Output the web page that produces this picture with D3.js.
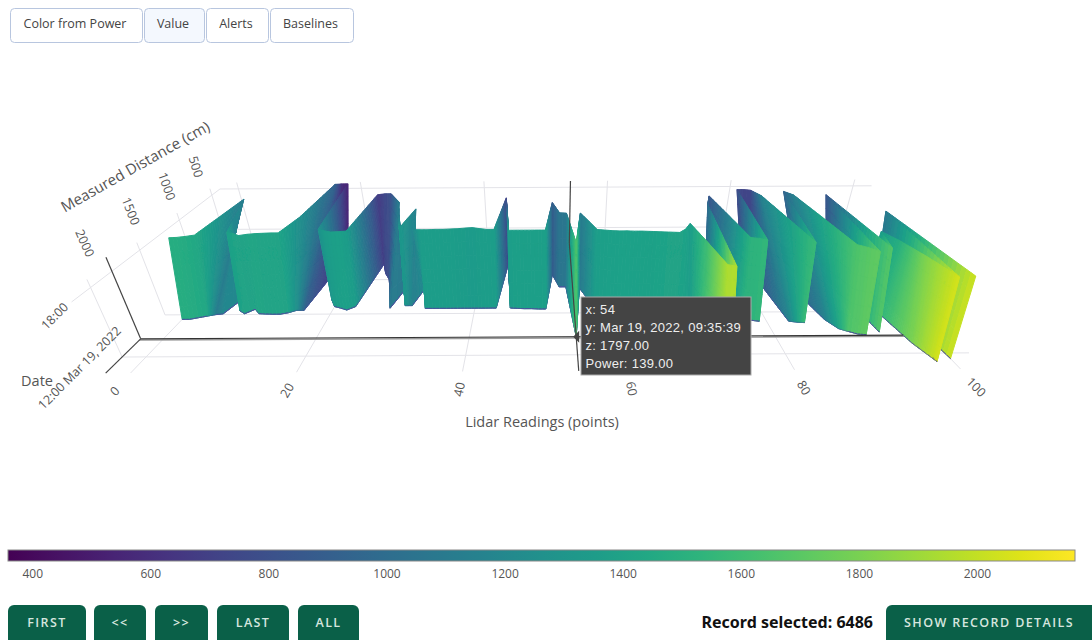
<!DOCTYPE html>
<html>
<head>
<meta charset="utf-8">
<script src="https://cdn.jsdelivr.net/npm/d3@7"></script>
<style>
  html, body { margin: 0; padding: 0; background: #fff; overflow: hidden; }
  text { font-family: "Open Sans", sans-serif; }
</style>
</head>
<body>
<svg id="chart" width="1092" height="640"></svg>
<script>
// Measured distance per lidar point (index = point 0..100), top and bottom record of the surface
const zTop = [1400,1395,1380,1360,700,900,1120,1320,1340,1370,1350,1340,1335,1330,1330,1060,380,370,370,1270,1300,
  1320,1315,1305,620,600,600,690,780,1020,1258,914,1289,1290,1290,1285,1285,1280,1275,1265,1258,
  1275,1290,1290,700,1305,1305,1305,1305,1305,1305,800,1000,1008,1510,1008,1150,1300,1310,1320,1325,
  1325,1330,1330,1335,1340,1345,1350,1355,1300,1205,1500,1830,1850,855,680,1050,1440,1455,1480,545,
  545,560,680,1100,1520,1050,590,665,1100,1560,1600,1660,665,1610,1355,1500,1720,2000,1000,1990];
const zBottom = [1560,1560,1540,1520,1500,1490,1280,1450,1490,1430,1490,1495,1498,1498,1480,1446,1446,800,700,1300,1398,
  1420,1446,1400,735,900,1000,1200,1424,1175,1390,1390,1145,1430,1430,1430,1430,1430,1430,1430,1430,
  1430,1430,1430,735,1430,1435,1440,1440,1445,1446,930,1127,1127,1797,1145,1300,1430,1435,1440,1440,
  1445,1445,1450,1450,1455,1455,1460,1460,1500,1500,1700,2050,2050,1100,1000,1200,1590,1607,1620,1000,
  900,900,1620,1633,1640,1400,1280,1600,1716,1751,1782,1790,1000,1760,1350,1480,1890,2090,1150,2060];
const rowHours = [9.595, 18.7];

const xTicks = [0, 20, 40, 60, 80, 100];
const zTicks = [500, 1000, 1500, 2000];
const dateTicks = [{hour: 12, label: '12:00 Mar 19, 2022'}, {hour: 18, label: '18:00'}];
const colorTicks = [400, 600, 800, 1000, 1200, 1400, 1600, 1800, 2000];

const toggleLabels = ['Color from Power', 'Value', 'Alerts', 'Baselines'];
const navLabels = ['FIRST', '<<', '>>', 'LAST', 'ALL'];
const tipLines = ['x: 54', 'y: Mar 19, 2022, 09:35:39', 'z: 1797.00', 'Power: 139.00'];
const hover = {x: 54, hour: 9.595, z: 1797};

// Extent of the scene box
const xRange = [-3, 103], hourRange = [9.595, 18.9], zRange = [2166, 360];

const svg = d3.select('#chart');

// The 3D scene is rasterised in the original, keep it a little soft
svg.append('defs').append('filter')
    .attr('id', 'soft')
    .append('feGaussianBlur')
    .attr('stdDeviation', 0.45);

// Scales from data to unit box coordinates
const uScale = d3.scaleLinear().domain([0, 100]).range([0, 1]);
const vScale = d3.scaleLinear().domain([12, 18]).range([0, 1]);
const wScale = d3.scaleLinear().domain([2000, 500]).range([0, 3]);
const color = d3.scaleSequential(d3.interpolateViridis).domain([359, 2166]);

// Perspective camera written as vanishing points of the date and distance directions
function project(x, hour, z) {
    const u = uScale(x), v = vScale(hour) * -0.05, w = wScale(z) * 0.1146;
    const den = 1 + v + w;
    return [
        (138 + 815 * u + v * 550 + w * 547) / den,
        (338 - 4 * u + v * 1300 - w * 60) / den
    ];
}

function line3d(parent, a, b, stroke, width) {
    const p = project(...a), q = project(...b);
    parent.append('line')
        .attr('x1', p[0]).attr('y1', p[1])
        .attr('x2', q[0]).attr('y2', q[1])
        .attr('stroke', stroke)
        .attr('stroke-width', width);
}

// Grid lines on floor, back wall and left wall
function drawGrid() {
    const g = svg.append('g');
    const gridColor = '#e3e3e8';
    const floor = hourRange[0], top = hourRange[1];
    xTicks.forEach(x => {
        line3d(g, [x, floor, zRange[0]], [x, floor, zRange[1]], gridColor, 1);
        line3d(g, [x, floor, zRange[1]], [x, top, zRange[1]], gridColor, 1);
    });
    zTicks.forEach(z => {
        line3d(g, [xRange[0], floor, z], [xRange[1], floor, z], gridColor, 1);
        line3d(g, [xRange[0], floor, z], [xRange[0], top, z], gridColor, 1);
    });
    dateTicks.forEach(d => {
        line3d(g, [xRange[0], d.hour, zRange[1]], [xRange[1], d.hour, zRange[1]], gridColor, 1);
    });
    line3d(g, [xRange[0], 18, zRange[0]], [xRange[0], 18, zRange[1]], gridColor, 1);
    line3d(g, [xRange[0], floor, zRange[1]], [xRange[1], floor, zRange[1]], gridColor, 1);
}

// Spikes from the hovered point to the walls
function drawSpikes() {
    const g = svg.append('g');
    const floor = hourRange[0], top = hourRange[1];
    line3d(g, [xRange[0], hover.hour, hover.z + 14], [xRange[1], hover.hour, hover.z + 14], '#999', 1.4);
    line3d(g, [xRange[0], hover.hour, hover.z], [xRange[1], hover.hour, hover.z], '#333', 1.2);
    line3d(g, [hover.x, floor, zRange[0]], [hover.x, floor, zRange[1]], '#444', 1.2);
    line3d(g, [hover.x, floor, zRange[1]], [hover.x, top, zRange[1]], '#444', 1.2);
    line3d(g, [xRange[0], floor, hover.z], [xRange[0], top + 0.7, hover.z], '#444', 1.2);
    line3d(g, [xRange[0], floor, zRange[0]], [xRange[0], floor, hover.z], '#444', 1.2);
}

// Surface: small cells sorted far to near, shaded across the readings
function surfaceCells() {
    const cells = [];
    const stepsY = 6;
    const zAt = (i, t) => zTop[i] * t + zBottom[i] * (1 - t);
    const hAt = t => rowHours[0] + (rowHours[1] - rowHours[0]) * t;
    const shade = i => (zTop[i] + zBottom[i]) / 2;
    for (let i = 0; i < zTop.length - 1; i++) {
        const stepsX = Math.max(2, Math.min(24, Math.ceil(Math.abs(shade(i + 1) - shade(i)) / 12)));
        for (let a = 0; a < stepsX; a++) {
            const sMid = (a + 0.5) / stepsX;
            const fill = color(shade(i) * (1 - sMid) + shade(i + 1) * sMid);
            for (let b = 0; b < stepsY; b++) {
                const corners = [[a, b], [a + 1, b], [a + 1, b + 1], [a, b + 1]].map(([p, q]) => {
                    const s = p / stepsX, t = q / stepsY;
                    const z = zAt(i, t) * (1 - s) + zAt(i + 1, t) * s;
                    return {x: i + s, hour: hAt(t), z};
                });
                const mean = d3.mean(corners, c => c.z);
                cells.push({mean, fill, stroke: fill, width: 1, points: corners.map(c => project(c.x, c.hour, c.z))});
                // thin darker rim along the first record
                if (b === 0) {
                    cells.push({mean: mean + 0.1, fill: 'none', stroke: '#4a4f9c', width: 0.8,
                        points: corners.slice(0, 2).map(c => project(c.x, c.hour, c.z))});
                }
            }
        }
    }
    return cells.sort((p, q) => p.mean - q.mean);
}

function drawCells(cells) {
    const g = svg.append('g').attr('filter', 'url(#soft)');
    g.selectAll('polygon')
        .data(cells)
        .enter().append('polygon')
        .attr('points', d => d.points.map(p => p.join(',')).join(' '))
        .attr('fill', d => d.fill)
        .attr('stroke', d => d.stroke)
        .attr('stroke-width', d => d.width)
        .attr('stroke-linejoin', 'round');
}

// Tick labels follow the direction of their grid line
function lineAngle(p, q) {
    let angle = Math.atan2(q[1] - p[1], q[0] - p[0]) * 180 / Math.PI;
    if (angle > 90) angle -= 180;
    if (angle < -90) angle += 180;
    return angle;
}

function tickLabel(pos, angle, label, size) {
    svg.append('text')
        .attr('transform', `translate(${pos[0]},${pos[1]}) rotate(${angle})`)
        .attr('text-anchor', 'middle')
        .attr('dominant-baseline', 'central')
        .attr('font-size', size)
        .attr('fill', '#555')
        .text(label);
}

function drawAxisLabels() {
    const floor = hourRange[0], top = hourRange[1];
    xTicks.forEach(x => {
        const p = project(x, floor, zRange[0]), q = project(x, floor, zRange[1]);
        tickLabel([p[0] + (p[0] - 547) * 0.038, p[1] + 18], lineAngle(p, q), x, 12.5);
    });
    zTicks.forEach(z => {
        const p = project(xRange[0], top, z), q = project(xRange[0], floor, z);
        tickLabel([p[0] - 10 + (z - 1000) * 0.008, p[1] - 22 - (z - 500) * 0.0095], lineAngle(p, q), z, 12.5);
    });
    dateTicks.forEach(d => {
        const p = project(xRange[0], d.hour, zRange[0]);
        tickLabel([p[0] - 17, p[1] + 14], -45, d.label, 12.5);
    });
    tickLabel([542, 421], 0, 'Lidar Readings (points)', 14.5);
    tickLabel([135, 166], -29.5, 'Measured Distance (cm)', 15);
    tickLabel([37, 380], 0, 'Date', 14.5);
}

function drawTooltip() {
    const anchor = project(hover.x, hover.hour, hover.z);
    const g = svg.append('g');
    g.append('path')
        .attr('d', `M${anchor[0] - 3},${anchor[1]} l6,-6 l0,12 z`)
        .attr('fill', '#444');
    g.append('rect')
        .attr('x', 581).attr('y', 297).attr('width', 170).attr('height', 78)
        .attr('fill', '#444').attr('stroke', '#aaa').attr('stroke-width', 1);
    g.selectAll('text')
        .data(tipLines)
        .enter().append('text')
        .attr('x', 585.5)
        .attr('y', (d, i) => 314 + i * 18)
        .attr('fill', '#eee')
        .attr('font-size', 13)
        .attr('letter-spacing', 0.3)
        .style('font-family', '"Liberation Sans", Arial, sans-serif')
        .text(d => d);
}

function drawColorbar() {
    const barScale = d3.scaleLinear().domain([359, 2166]).range([8, 1075]);
    const defs = svg.append('defs');
    const grad = defs.append('linearGradient').attr('id', 'viridis');
    d3.range(0, 1.01, 0.05).forEach(t => {
        grad.append('stop')
            .attr('offset', t)
            .attr('stop-color', d3.interpolateViridis(t));
    });
    svg.append('rect')
        .attr('x', 8).attr('y', 550).attr('width', 1067).attr('height', 11)
        .attr('fill', 'url(#viridis)')
        .attr('stroke', '#888').attr('stroke-width', 1);
    const axis = d3.axisBottom(barScale).tickValues(colorTicks).tickFormat(d3.format('d')).tickSize(0).tickPadding(8);
    const g = svg.append('g').attr('transform', 'translate(0,561)').call(axis);
    g.select('.domain').remove();
    g.selectAll('text').attr('font-size', 12).attr('fill', '#555').style('font-family', '"Open Sans", sans-serif');
}

function drawControls() {
    const toggleX = [10, 144, 206, 270], toggleW = [133, 61, 63, 84];
    toggleLabels.forEach((label, i) => {
        svg.append('rect')
            .attr('x', toggleX[i] + 0.5).attr('y', 8.5)
            .attr('width', toggleW[i] - 1).attr('height', 34)
            .attr('rx', 4)
            .attr('fill', label === 'Value' ? '#f4f8fe' : '#fff')
            .attr('stroke', '#b8c6df');
        svg.append('text')
            .attr('x', toggleX[i] + toggleW[i] / 2 - 1.5).attr('y', 28)
            .attr('text-anchor', 'middle')
            .attr('font-size', 12.5)
            .attr('fill', '#444')
            .text(label);
    });

    const navX = [8, 94, 155, 217, 298], navW = [78, 52, 53, 72, 61];
    const button = (x, w, label, textX) => {
        svg.append('rect')
            .attr('x', x).attr('y', 605).attr('width', w).attr('height', 42)
            .attr('rx', 6).attr('fill', '#0a6048');
        svg.append('text')
            .attr('x', textX).attr('y', 627)
            .attr('text-anchor', 'middle')
            .attr('font-size', 12.5).attr('font-weight', 600)
            .attr('letter-spacing', 1.4)
            .attr('fill', '#d5e6df')
            .text(label);
    };
    navLabels.forEach((label, i) => button(navX[i], navW[i], label, navX[i] + navW[i] / 2));
    button(886, 220, 'SHOW RECORD DETAILS', 989);

    svg.append('text')
        .attr('x', 873).attr('y', 628)
        .attr('text-anchor', 'end')
        .attr('font-size', 16).attr('font-weight', 700)
        .attr('fill', '#111')
        .style('font-family', '"Noto Sans", sans-serif')
        .text('Record selected: 6486');
}

drawGrid();
const cells = surfaceCells();
drawCells(cells.filter(c => c.mean < hover.z));
drawSpikes();
drawCells(cells.filter(c => c.mean >= hover.z));
drawAxisLabels();
drawTooltip();
drawColorbar();
drawControls();
</script>
</body>
</html>
